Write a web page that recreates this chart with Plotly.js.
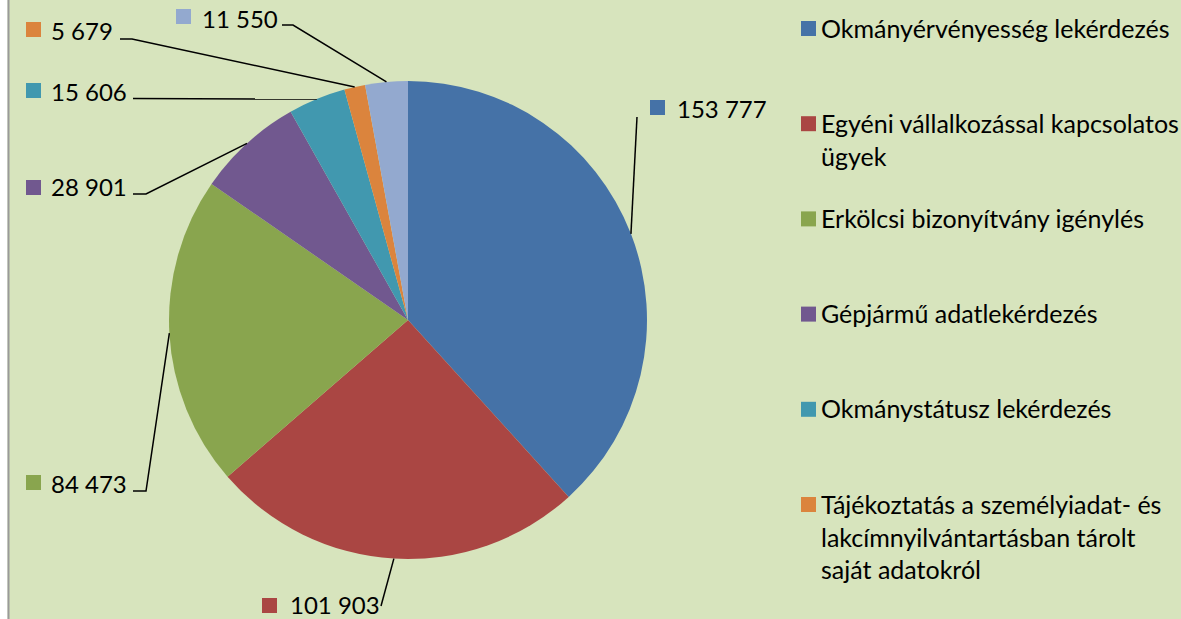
<!DOCTYPE html>
<html>
<head>
<meta charset="utf-8">
<script src="https://cdn.plot.ly/plotly-3.0.1.min.js"></script>
<style>
  html, body { margin: 0; padding: 0; background: #ffffff; }
  #chart { width: 1181px; height: 619px; }
</style>
</head>
<body>
<div id="chart"></div>
<script>
// ---- data ----
const categories = [
  "Okmányérvényesség lekérdezés",
  "Egyéni vállalkozással kapcsolatos ügyek",
  "Erkölcsi bizonyítvány igénylés",
  "Gépjármű adatlekérdezés",
  "Okmánystátusz lekérdezés",
  "Tájékoztatás a személyiadat- és lakcímnyilvántartásban tárolt saját adatokról",
  "Egyéb"
];
const legendText = [
  "Okmányérvényesség lekérdezés",
  "Egyéni vállalkozással kapcsolatos<br>ügyek",
  "Erkölcsi bizonyítvány igénylés",
  "Gépjármű adatlekérdezés",
  "Okmánystátusz lekérdezés",
  "Tájékoztatás a személyiadat- és<br>lakcímnyilvántartásban tárolt<br>saját adatokról"
];
const values = [153777, 101903, 84473, 28901, 15606, 5679, 11550];
const colors = ["#4572A7", "#AA4643", "#89A54E", "#71588F", "#4198AF", "#DB843D", "#93A9CF"];

// ---- layout constants (pixels) ----
const W = 1181, H = 619;
const CX = 408, CY = 320, R = 239;
const FONT = "Lato, 'Open Sans', sans-serif";
const FS = 24, FSL = 25;
const bg = "#D7E4BD";

// label placement: square top-left, text left & centre, leader points from label side
const labelPos = [
  {sq: [650, 100], tx: 676, ty: 108, pts: [[637, 117]]},
  {sq: [262, 598], tx: 289, ty: 604, pts: [[381, 606]]},
  {sq: [26, 475],  tx: 50,  ty: 483, pts: [[133, 491], [146, 491]]},
  {sq: [26, 180],  tx: 50,  ty: 187, pts: [[133, 194], [146, 194]]},
  {sq: [26, 83],   tx: 50,  ty: 91,  pts: [[133, 98.5]]},
  {sq: [26, 22],   tx: 50,  ty: 31,  pts: [[120, 39], [132, 39]]},
  {sq: [176, 9],   tx: 201, ty: 18,  pts: [[282, 25], [293, 25]]}
];
const legendSq = 801, legendTx = 819, legendTop = 28.5, legendStep = 95.2, SQ = 15;

const fx = p => p / W;
const fy = p => 1 - p / H;
const fmt = v => String(v).replace(/\B(?=(\d{3})+(?!\d))/g, " ");

const total = values.reduce((a, b) => a + b, 0);
const shapes = [];
const annotations = [];

// white strip and border on the left
shapes.push({type: "rect", xref: "paper", yref: "paper", x0: 0, x1: fx(7.5), y0: 0, y1: 1,
  fillcolor: "#ffffff", line: {width: 0}, layer: "below"});
shapes.push({type: "line", xref: "paper", yref: "paper", x0: fx(8.5), x1: fx(8.5), y0: 0, y1: 1,
  line: {color: "#9a9a9a", width: 2}});

let cum = 0;
values.forEach((v, i) => {
  const mid = (cum + v / 2) / total * 2 * Math.PI;
  cum += v;
  const ex = CX + R * Math.sin(mid);
  const ey = CY - R * Math.cos(mid);
  const lp = labelPos[i];
  const pts = lp.pts.concat([[ex, ey]]);
  let d = "M " + fx(pts[0][0]) + "," + fy(pts[0][1]);
  for (let k = 1; k < pts.length; k++) d += " L " + fx(pts[k][0]) + "," + fy(pts[k][1]);
  shapes.push({type: "path", xref: "paper", yref: "paper", path: d, line: {color: "#000000", width: 1.5}});
  shapes.push({type: "rect", xref: "paper", yref: "paper",
    x0: fx(lp.sq[0]), x1: fx(lp.sq[0] + SQ), y0: fy(lp.sq[1] + SQ), y1: fy(lp.sq[1]),
    fillcolor: colors[i], line: {width: 0}});
  annotations.push({xref: "paper", yref: "paper", x: fx(lp.tx), y: fy(lp.ty),
    xanchor: "left", yanchor: "middle", showarrow: false, text: fmt(v), borderpad: 0,
    font: {family: FONT, size: FS, color: "#000000"}});
});

// legend (first six entries, as in the reference)
legendText.forEach((t, i) => {
  const cyL = legendTop + i * legendStep;
  shapes.push({type: "rect", xref: "paper", yref: "paper",
    x0: fx(legendSq), x1: fx(legendSq + SQ), y0: fy(cyL + SQ / 2), y1: fy(cyL - SQ / 2),
    fillcolor: colors[i], line: {width: 0}});
  annotations.push({xref: "paper", yref: "paper", x: fx(legendTx), y: fy(cyL - 18),
    xanchor: "left", yanchor: "top", align: "left", showarrow: false, text: t,
    font: {family: FONT, size: FSL, color: "#000000"}});
});

const trace = {
  type: "pie",
  labels: categories,
  values: values,
  marker: {colors: colors, line: {width: 0}},
  sort: false,
  direction: "clockwise",
  rotation: 0,
  textinfo: "none",
  hoverinfo: "label+value",
  showlegend: false,
  domain: {x: [fx(CX - R), fx(CX + R)], y: [fy(CY + R), fy(CY - R)]}
};

const layout = {
  width: W, height: H,
  margin: {l: 0, r: 0, t: 0, b: 0},
  paper_bgcolor: bg,
  plot_bgcolor: bg,
  showlegend: false,
  shapes: shapes,
  annotations: annotations
};

Plotly.newPlot("chart", [trace], layout, {displayModeBar: false, staticPlot: true});
</script>
</body>
</html>
